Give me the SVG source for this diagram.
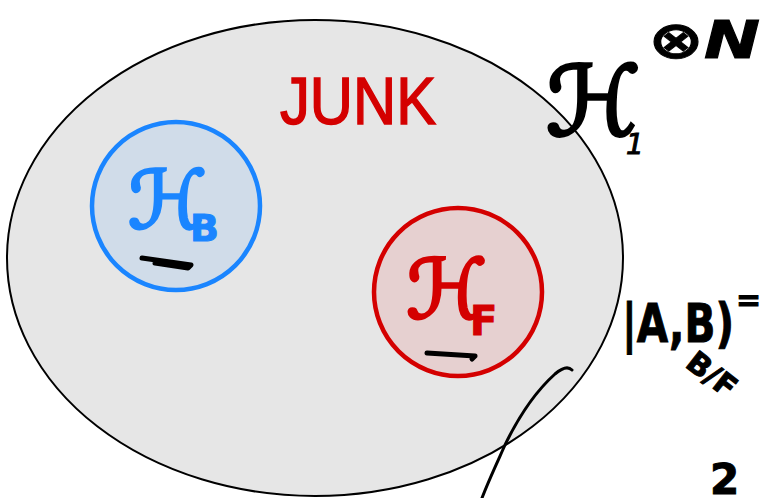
<svg xmlns="http://www.w3.org/2000/svg" width="766" height="498" viewBox="0 0 766 498">
<style>
.hand{font-family:"DejaVu Sans",sans-serif;font-style:italic}
.up{font-style:normal}
.blk{fill:#000;stroke:#000}
.red{fill:#d40000;stroke:#d40000}
.blue{fill:#1a85ff;stroke:#1a85ff}
.stroke{fill:none;stroke:#000;stroke-linecap:round;stroke-linejoin:round}
</style>
<rect width="766" height="498" fill="#fff"/>
<g id="junk-space">
<ellipse cx="315" cy="258" rx="308" ry="238" fill="#e6e6e6" stroke="#000" stroke-width="2"/>
<text x="280" y="124" class="red" stroke-width="1.5" font-family="Liberation Sans,sans-serif" font-size="66" textLength="156" lengthAdjust="spacingAndGlyphs">JUNK</text>
</g>
<g id="HB">
<circle cx="176" cy="206" r="84" fill="#d0dce9" stroke="#1a85ff" stroke-width="4.5"/>
<text x="128" y="228" class="hand blue" stroke-width="3" font-size="80">ℋ</text>
<text x="190" y="241" class="hand up blue" stroke-width="1" font-size="38" font-weight="bold">B</text>
<path class="stroke" d="M142 258 L191 265 L188 268 L155 263" stroke-width="5"/>
</g>
<g id="HF">
<circle cx="458" cy="292" r="84" fill="#e6d0d0" stroke="#d40000" stroke-width="4.5"/>
<text x="406" y="318" class="hand red" stroke-width="3" font-size="82">ℋ</text>
<text x="470" y="335" class="hand up red" stroke-width="1" font-size="40" font-weight="bold">F</text>
<path class="stroke" d="M427 353 L475 356 L472 359" stroke-width="5"/>
</g>
<g id="H1N">
<text x="546" y="135" class="hand blk" stroke-width="3.5" font-size="96">ℋ</text>
<text x="626" y="154" class="hand blk" stroke-width="1" font-size="28">1</text>
<text x="648" y="58" class="hand blk" stroke-width="1" font-size="52" font-weight="bold" textLength="112" lengthAdjust="spacingAndGlyphs">⊗N</text>
</g>
<g id="ket">
<text x="622" y="342" class="hand up blk" stroke-width="1" font-size="54" font-weight="bold" textLength="112" lengthAdjust="spacingAndGlyphs">|A,B)</text>
<text x="736" y="310" class="hand up blk" stroke-width="1" font-size="30" font-weight="bold">=</text>
<text x="684" y="366" class="hand up blk" stroke-width="1" font-size="30" font-weight="bold" transform="rotate(38 684 366)">B/F</text>
<text x="710" y="494" class="hand up blk" stroke-width="1" font-size="42" font-weight="bold">2</text>
</g>
<g id="connectors">
<path class="stroke" d="M572 370 C568 366 562 368 555 374 C535 392 518 418 505 445 C496 465 488 482 482 498" stroke-width="3"/>
</g>
</svg>
